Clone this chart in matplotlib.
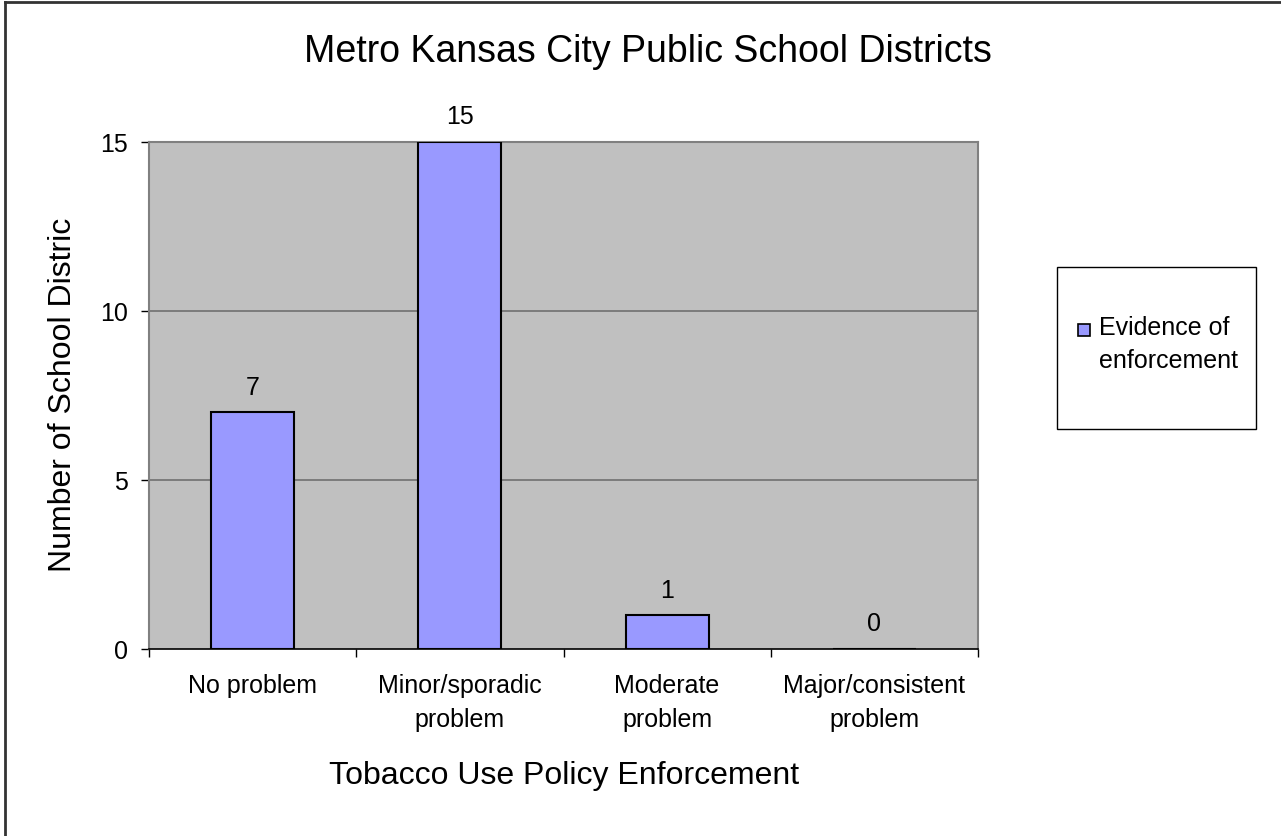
import matplotlib.pyplot as plt
from matplotlib.lines import Line2D
from matplotlib.patches import Rectangle

categories = ['No problem', 'Minor/sporadic\nproblem', 'Moderate\nproblem', 'Major/consistent\nproblem']
values = [7, 15, 1, 0]
series_name = 'Evidence of\nenforcement'
yticks = [0, 5, 10, 15]

plt.rcParams['font.family'] = ['Liberation Sans', 'DejaVu Sans']

W, H = 1281, 837
fig = plt.figure(figsize=(W / 100, H / 100), dpi=100)
ax = fig.add_axes([149 / W, 1 - 650 / H, (978 - 149) / W, (650 - 143) / H])

ax.set_facecolor('#C0C0C0')
x = list(range(len(categories)))
bar_color = '#9999FF'
bars = ax.bar(x, values, width=0.4, color=bar_color, edgecolor='black', linewidth=1.5,
              label=series_name, zorder=3)
for xi, v in zip(x, values):
    ax.text(xi, v + 0.4, str(v), ha='center', va='bottom', fontsize=18, zorder=4)

ax.set_xlim(-0.5, len(categories) - 0.5)
ax.set_ylim(0, 15)
ax.set_yticks(yticks)
ax.set_yticklabels([str(t) for t in yticks], fontsize=18)
ax.tick_params(axis='y', direction='out', length=6, width=1, color='black', pad=9)

# category labels sit between the boundary ticks
ax.set_xticks([i - 0.5 for i in range(len(categories) + 1)])
ax.set_xticklabels([])
ax.tick_params(axis='x', direction='out', length=5.5, width=1, color='black')
for xi, c in zip(x, categories):
    ax.text(xi, -0.72, c, ha='center', va='top', fontsize=18, linespacing=1.5)

for yv in yticks[1:]:
    ax.axhline(yv, color='#707070', linewidth=1.2, zorder=1)

for s in ['left', 'right', 'top']:
    ax.spines[s].set_color('#808080')
    ax.spines[s].set_linewidth(1.5)
ax.spines['bottom'].set_color('black')
ax.spines['bottom'].set_linewidth(1.2)

fig.text((300 + 995) / 2 / W, 1 - 52 / H, 'Metro Kansas City Public School Districts',
         ha='center', va='center', fontsize=27)
fig.text(564 / W, 1 - 776 / H, 'Tobacco Use Policy Enforcement',
         ha='center', va='center', fontsize=23)
fig.text(63 / W, 1 - 395 / H, 'Number of School Distric', rotation=90,
         ha='center', va='center', fontsize=23)

# legend drawn by hand: box, swatch next to the first line, two-line label
fig.add_artist(Rectangle((1057 / W, 1 - 430 / H), (1256 - 1057) / W, (430 - 268) / H,
                         transform=fig.transFigure, facecolor='white', edgecolor='black',
                         linewidth=1.0))
fig.add_artist(Rectangle((1078 / W, 1 - 337 / H), 12 / W, 12 / H,
                         transform=fig.transFigure, facecolor=bar_color, edgecolor='black',
                         linewidth=1.2))
fig.text(1099 / W, 1 - 316 / H, series_name, ha='left', va='top', fontsize=18,
         linespacing=1.5)

fig.add_artist(Line2D([5 / W, 5 / W], [0, 1 - 3 / H], transform=fig.transFigure,
                      color='#333333', linewidth=2))
fig.add_artist(Line2D([5 / W, 1], [1 - 3 / H, 1 - 3 / H], transform=fig.transFigure,
                      color='#333333', linewidth=2))

fig.savefig('out.png', dpi=100)
